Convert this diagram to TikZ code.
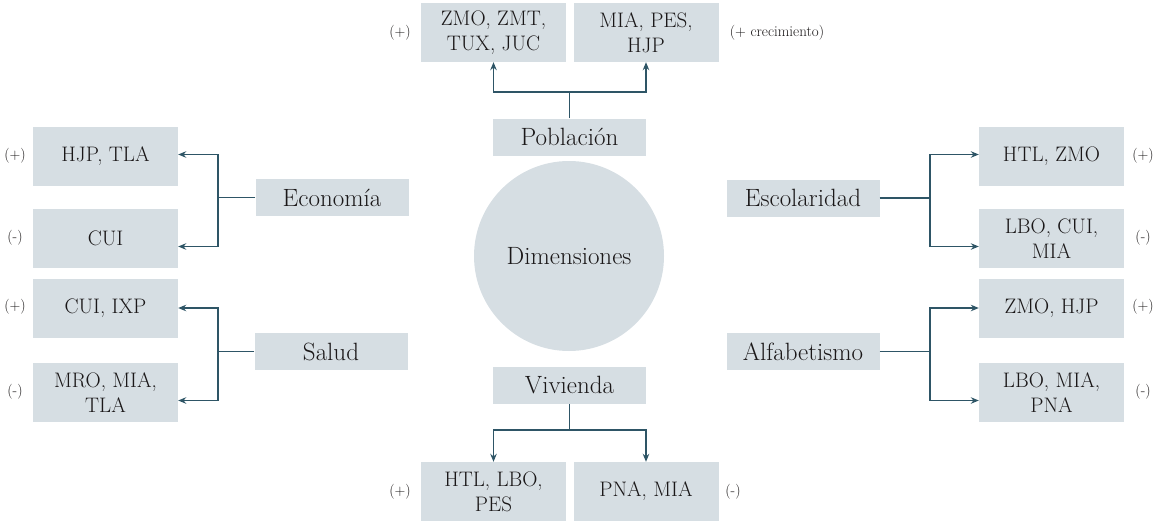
\documentclass[tikz,border=0pt]{standalone}
\usepackage{xcolor}
\usepackage{tikz}
\usetikzlibrary{arrows.meta}

\definecolor{cajagris}{HTML}{D6DEE3}
\definecolor{linea}{HTML}{2E5566}
\definecolor{texto}{HTML}{1A1718}

\tikzset{
	caja/.style={fill=cajagris, text=texto, minimum width=145pt, minimum height=59pt, inner sep=0pt, align=center, font=\fontsize{21}{25}\selectfont},
	dimbox/.style={fill=cajagris, text=texto, minimum width=153pt, minimum height=37pt, inner sep=0pt, font=\fontsize{25}{28}\selectfont},
	signo/.style={text=texto, inner sep=0pt, font=\fontsize{15}{17}\selectfont},
	liga/.style={draw=linea, line width=1.3pt},
	flecha/.style={liga, -{Stealth[length=8pt,width=6.5pt]}},
}

\begin{document}
\begin{tikzpicture}[x=1pt,y=-1pt]
	\useasboundingbox (0,0) rectangle (1158,527);
	% centro
	\node[circle, fill=cajagris, text=texto, minimum size=190pt, inner sep=0pt, font=\fontsize{25}{28}\selectfont] at (569,256) (dim) {Dimensiones};
	% dimensiones
	\node[dimbox] at (569.5,137) (pob) {Población};
	\node[dimbox] at (569.5,385.5) (viv) {Vivienda};
	\node[dimbox] at (332,197.5) (eco) {Economía};
	\node[dimbox] at (331,351.5) (sal) {Salud};
	\node[dimbox] at (803,198) (esc) {Escolaridad};
	\node[dimbox] at (803,351.5) (alf) {Alfabetismo};
	% municipios
	\node[caja] at (493.5,32.5) (pobA) {ZMO, ZMT,\\TUX, JUC};
	\node[caja] at (646,32.5) (pobB) {MIA, PES,\\HJP};
	\node[caja] at (493.5,491.5) (vivA) {HTL, LBO,\\PES};
	\node[caja] at (646,491.5) (vivB) {PNA, MIA};
	\node[caja] at (105.5,156.5) (ecoA) {HJP, TLA};
	\node[caja] at (105.5,238.5) (ecoB) {CUI};
	\node[caja] at (105.5,308) (salA) {CUI, IXP};
	\node[caja] at (105.5,392.5) (salB) {MRO, MIA,\\TLA};
	\node[caja] at (1051.5,156.5) (escA) {HTL, ZMO};
	\node[caja] at (1051.5,238.5) (escB) {LBO, CUI,\\MIA};
	\node[caja] at (1051.5,308) (alfA) {ZMO, HJP};
	\node[caja] at (1051.5,392.5) (alfB) {LBO, MIA,\\PNA};
	% signos
	\node[signo] at (400,33) (pobAs) {(+)};
	\node[signo] at (777,33) (pobBs) {(+ crecimiento)};
	\node[signo] at (400,492) (vivAs) {(+)};
	\node[signo] at (733,492) (vivBs) {(-)};
	\node[signo] at (15,156) (ecoAs) {(+)};
	\node[signo] at (15,238) (ecoBs) {(-)};
	\node[signo] at (15,307) (salAs) {(+)};
	\node[signo] at (15,392) (salBs) {(-)};
	\node[signo] at (1143,156) (escAs) {(+)};
	\node[signo] at (1143,238) (escBs) {(-)};
	\node[signo] at (1143,307) (alfAs) {(+)};
	\node[signo] at (1143,392) (alfBs) {(-)};
	% puntos de union
	\coordinate (pobJ) at (569.5,92);
	\coordinate (vivJ) at (569.5,430);
	\coordinate (ecoJ) at (218,197.5);
	\coordinate (salJ) at (218,351.5);
	\coordinate (escJ) at (930,198);
	\coordinate (alfJ) at (930,351.5);
	% conectores
	\draw [liga] (pob.north) -- (pobJ);
	\draw [flecha] (pobJ) -| (pobA.south);
	\draw [flecha] (pobJ) -| (pobB.south);
	\draw [liga] (viv.south) -- (vivJ);
	\draw [flecha] (vivJ) -| (vivA.north);
	\draw [flecha] (vivJ) -| (vivB.north);
	\draw [liga] (eco.west) -- (ecoJ);
	\draw [flecha] (ecoJ) |- ([yshift=2pt]ecoA.east);
	\draw [flecha] (ecoJ) |- ([yshift=-8pt]ecoB.east);
	\draw [liga] (sal.west) -- (salJ);
	\draw [flecha] (salJ) |- (salA.east);
	\draw [flecha] (salJ) |- ([yshift=-8pt]salB.east);
	\draw [liga] (esc.east) -- (escJ);
	\draw [flecha] (escJ) |- ([yshift=2pt]escA.west);
	\draw [flecha] (escJ) |- ([yshift=-8pt]escB.west);
	\draw [liga] (alf.east) -- (alfJ);
	\draw [flecha] (alfJ) |- (alfA.west);
	\draw [flecha] (alfJ) |- ([yshift=-8pt]alfB.west);
\end{tikzpicture}
\end{document}
